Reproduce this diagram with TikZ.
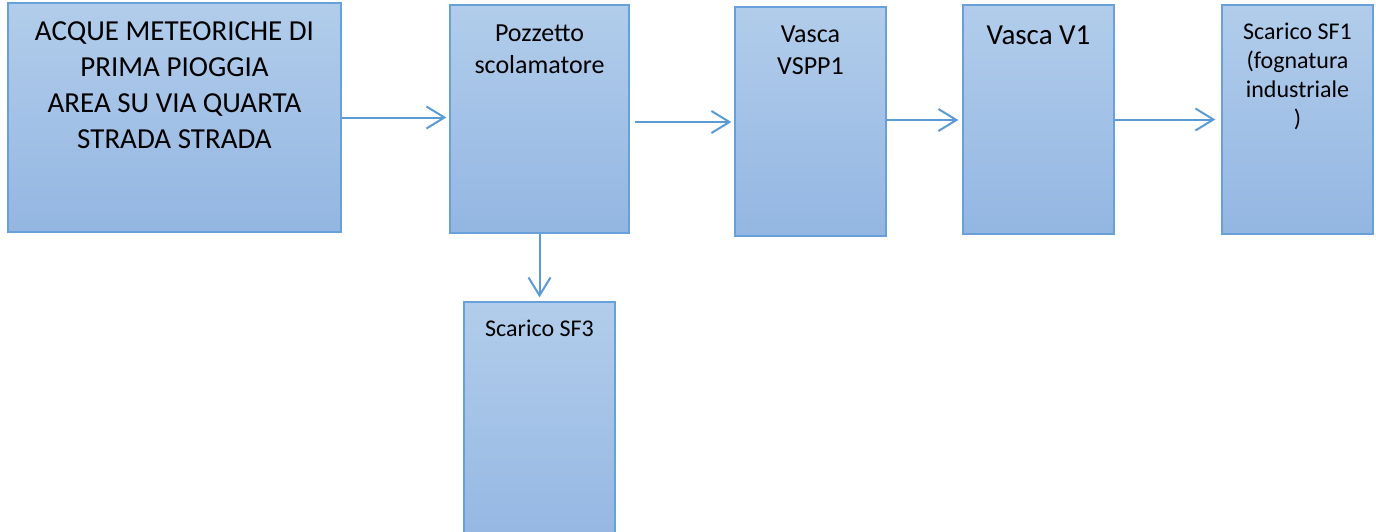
\documentclass[tikz,border=0pt]{standalone}
\usepackage{fontspec}
\setmainfont{Carlito}
\usetikzlibrary{arrows.meta}
\definecolor{boxtop}{RGB}{178,205,235}
\definecolor{boxbot}{RGB}{147,182,226}
\definecolor{boxline}{RGB}{104,160,218}
\definecolor{flowline}{RGB}{91,155,213}
\tikzset{
  box/.style={draw=boxline, line width=1.3pt, top color=boxtop, bottom color=boxbot,
    inner sep=0pt, minimum width=#1},
  % multi-line captions: the base anchor sits on the last line
  boxtxt/.style={anchor=base, align=center, inner sep=0pt, text=black},
  flow/.style={draw=flowline, line width=2pt,
    -{Straight Barb[length=18pt, width=22pt, line width=2pt]}},
}
\begin{document}
\begin{tikzpicture}[x=1pt, y=-1pt]
  \useasboundingbox (0,0) rectangle (1376,531);
  \clip (0,0) rectangle (1376,531);
  % process boxes
  \node[box=333pt, minimum height=229pt] (A) at (174.5,117.5) {};
  \node[box=179pt, minimum height=228pt] (B) at (539.5,119) {};
  \node[box=151pt, minimum height=229pt] (C) at (810.5,121.5) {};
  \node[box=151pt, minimum height=229pt] (D) at (1038.5,119.5) {};
  \node[box=151pt, minimum height=229pt] (E) at (1297.5,119.5) {};
  \node[box=151pt, minimum height=250pt] (F) at (539.5,427) {};
  % box captions
  \node[boxtxt, font={\fontsize{29}{36}\selectfont}] (At) at (174.5,148.7)
    {ACQUE METEORICHE DI\\PRIMA PIOGGIA\\AREA SU VIA QUARTA\\STRADA STRADA};
  \node[boxtxt, font={\fontsize{26}{32}\selectfont}] (Bt) at (539.5,73)
    {Pozzetto\\scolamatore};
  \node[boxtxt, font={\fontsize{26}{32}\selectfont}] (Ct) at (810.5,74)
    {Vasca\\VSPP1};
  \node[boxtxt, font={\fontsize{29}{36}\selectfont}] (Dt) at (1038.5,44)
    {Vasca V1};
  \node[boxtxt, font={\fontsize{24}{29}\selectfont}] (Et) at (1297.5,126)
    {Scarico SF1\\(fognatura\\industriale\\)};
  \node[boxtxt, font={\fontsize{24}{29}\selectfont}] (Ft) at (539.5,336)
    {Scarico SF3};
  % flow connectors
  \draw[flow, shorten >=3pt] (A.east) -- (A.east -| B.west);
  \draw[flow, shorten <=5pt, shorten >=3pt] ([yshift=-3pt]B.east) -- ([yshift=-3pt]B.east -| C.west);
  \draw[flow, shorten >=4pt] ([yshift=1.5pt]C.east) -- ([yshift=1.5pt]C.east -| D.west);
  \draw[flow, shorten >=6pt] (D.east) -- (D.east -| E.west);
  \draw[flow, shorten >=4pt] (B.south) -- (F.north);
\end{tikzpicture}
\end{document}
